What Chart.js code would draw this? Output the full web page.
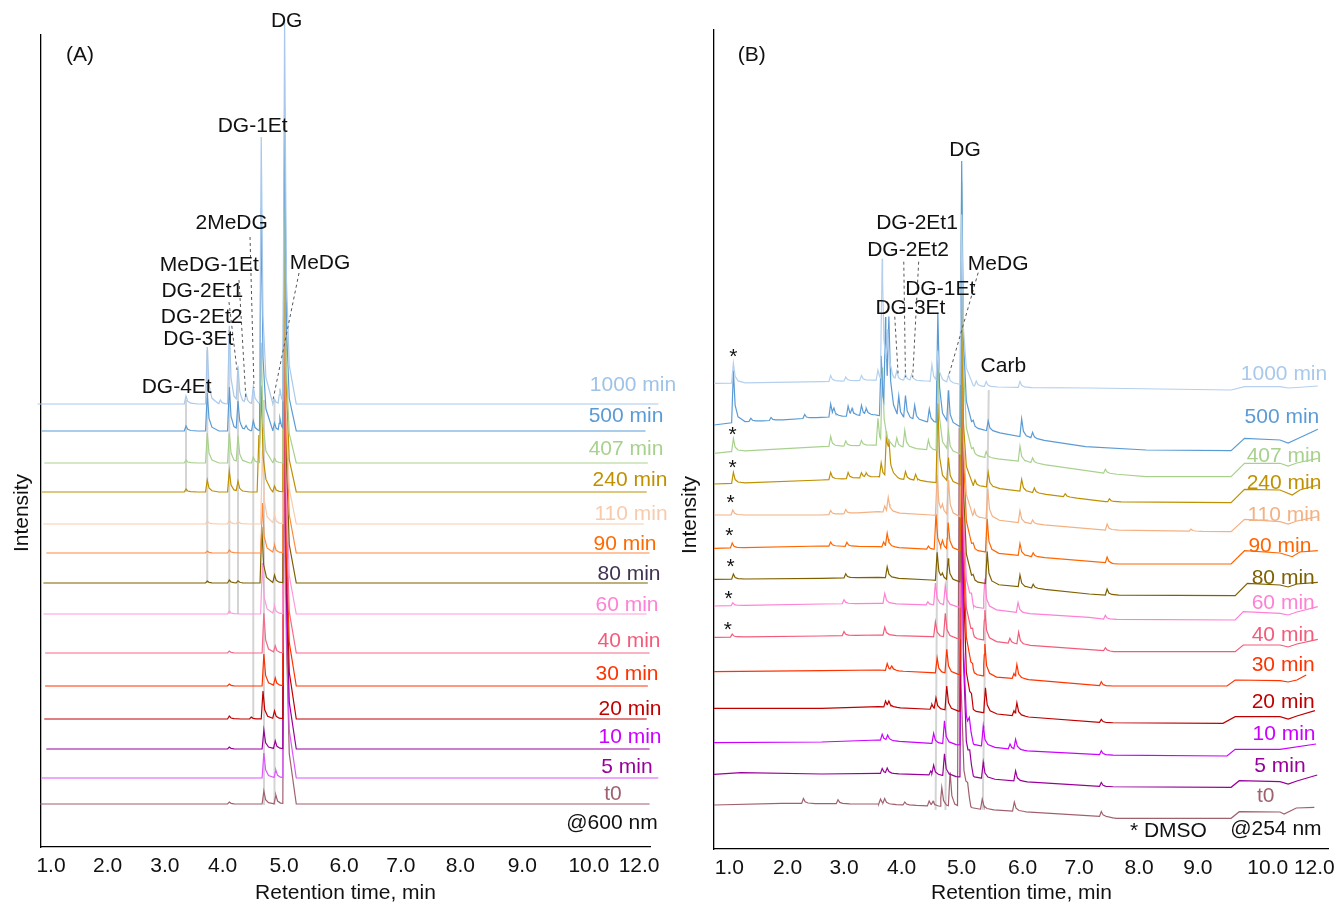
<!DOCTYPE html>
<html>
<head>
<meta charset="utf-8">
<script src="https://cdn.jsdelivr.net/npm/chart.js@4.4.0/dist/chart.umd.min.js"></script>
<style>
  body { margin: 0; background: #fff; }
  #page { position: relative; width: 1342px; height: 904px; overflow: hidden; }
  #chartA { position: absolute; left: 0; top: 0; }
  #chartB { position: absolute; left: 672px; top: 0; }
</style>
</head>
<body>
<div id="page">
  <canvas id="chartA" width="680" height="904"></canvas>
  <canvas id="chartB" width="670" height="904"></canvas>
</div>
<script>
const FONT = '"Liberation Sans", Arial, Helvetica, sans-serif';

const traceNames = ['1000 min', '500 min', '407 min', '240 min', '110 min', '90 min', '80 min',
  '60 min', '40 min', '30 min', '20 min', '10 min', '5 min', 't0'];

// ---- Panel A (@600 nm) ----
const aTickPositions = [1.0, 1.97, 2.95, 3.94, 4.99, 6.02, 6.99, 8.01, 9.07, 10.21, 11.07];
const aTickLabels = ['1.0', '2.0', '3.0', '4.0', '5.0', '6.0', '7.0', '8.0', '9.0', '10.0', '12.0'];
const aBaselineLevels = [443, 416, 384, 355, 323, 294, 264, 233, 194, 161, 128, 98, 69, 43];
const aTraceStart = [0.77, 0.84, 0.885, 0.846, 0.87, 0.92, 0.87, 0.87, 0.9, 0.9, 0.885, 0.92, 0.846, 0.815];
const aTraceEnd = [11.4, 11.18, 11.22, 11.2, 11.15, 11.25, 11.22, 11.2, 11.25, 11.22, 11.2, 11.25, 11.4, 11.25];
// [retention time, peak height]
const aPeaks = [
  [[3.312, 8], [3.676, 57], [3.9, 4], [4.053, 78], [4.202, 35], [4.34, 8], [4.464, 17], [4.60, 266], [4.827, 5], [4.92, 15], [5.0, 383]],
  [[3.312, 5], [3.676, 38], [4.053, 44], [4.202, 28], [4.34, 4], [4.464, 10], [4.60, 222], [4.827, 8], [4.92, 12], [5.0, 323]],
  [[3.312, 3], [3.676, 30], [4.053, 30], [4.202, 26], [4.464, 6], [4.60, 120], [4.827, 5], [5.0, 293]],
  [[3.312, 3], [3.676, 12], [4.053, 21], [4.202, 10], [4.56, 57], [4.60, 90], [4.827, 6], [5.0, 324]],
  [[3.676, 3], [4.053, 4], [4.202, 3], [4.62, 74], [4.827, 9], [5.0, 354]],
  [[3.676, 2], [4.053, 3], [4.62, 50], [4.827, 8], [5.0, 381]],
  [[3.676, 2], [4.053, 3], [4.202, 2], [4.61, 56], [4.827, 8], [5.0, 383]],
  [[4.053, 3], [4.62, 51], [4.827, 8], [5.0, 384]],
  [[4.053, 2], [4.645, 40], [4.84, 7], [5.0, 413]],
  [[4.053, 2], [4.645, 32], [4.84, 8], [5.0, 436]],
  [[4.053, 3], [4.43, 2], [4.63, 28], [4.827, 8], [5.0, 469]],
  [[4.053, 2], [4.645, 19], [4.84, 8], [5.0, 469]],
  [[4.645, 25], [4.85, 8], [5.0, 478]],
  [[4.053, 2], [4.645, 13], [4.85, 9], [5.0, 504]]
];
// light grey guide lines [t, top, t, bottom]
const aGuides = [
  [3.312, 447, 3.312, 355], [3.676, 497, 3.676, 264], [4.053, 517, 4.053, 233], [4.202, 475, 4.202, 233],
  [4.464, 457, 4.464, 128], [4.647, 447, 4.647, 42], [4.827, 447, 4.827, 42]
];

// ---- Panel B (@254 nm) ----
const bTickPositions = [1.0, 2.0, 2.97, 3.96, 4.99, 6.04, 7.01, 8.04, 9.05, 10.25, 11.05];
const bTickLabels = ['1.0', '2.0', '3.0', '4.0', '5.0', '6.0', '7.0', '8.0', '9.0', '10.0', '12.0'];
const bBaselines = [
  [[0.737, 465.7], [2.587, 467.3], [3.5, 469], [4.4, 468], [5.37, 462.3], [6.07, 461.5], [7.2, 461], [9.62, 459], [9.85, 462.3], [10.46, 462.3], [10.6, 461], [10.75, 461.5], [11.11, 463]],
  [[0.737, 424], [1.2, 427.3], [1.89, 429], [2.587, 431.7], [3.5, 434], [4.4, 427.3], [4.95, 422.3], [5.37, 419], [6.07, 411.7], [7.12, 402.3], [8.16, 399], [9.62, 398.3], [9.85, 410.7], [10.46, 409], [10.6, 406], [10.75, 410], [11.11, 419.7]],
  [[0.737, 395.7], [1.02, 397.3], [2.587, 402.3], [3.5, 404], [4.47, 399], [5.37, 391.7], [6.07, 387.3], [7.46, 375.7], [8.16, 372.3], [9.62, 372.3], [9.85, 385.7], [10.46, 385.7], [10.6, 383], [10.75, 386], [11.11, 390.7]],
  [[0.737, 365], [2.587, 369], [3.56, 372.3], [4.4, 367.3], [5.37, 362.3], [6.07, 357.3], [7.46, 347.3], [9.62, 346.3], [9.85, 359.7], [10.46, 359], [10.67, 354], [10.8, 359], [11.11, 364]],
  [[0.737, 334], [2.587, 334], [3.56, 337.3], [4.47, 334], [5.37, 330.7], [6.07, 325.7], [7.46, 319], [9.62, 317.3], [9.85, 329.7], [10.46, 327.3], [10.6, 325], [10.75, 328], [11.11, 332.3]],
  [[0.737, 300.7], [2.587, 303], [3.56, 302.3], [4.47, 299.7], [5.37, 297.3], [6.07, 293], [7.46, 286.3], [7.6, 285], [9.62, 285], [9.85, 298.3], [10.46, 296], [10.67, 292.3], [10.8, 297], [11.11, 298.3]],
  [[0.737, 269.7], [2.587, 270.7], [3.56, 271.7], [4.47, 269], [5.37, 265.7], [6.07, 261.7], [7.18, 255], [7.46, 254], [9.69, 253.3], [9.9, 265.7], [10.46, 264], [10.6, 262], [10.75, 265], [11.11, 266.7]],
  [[0.737, 243], [2.587, 245], [3.56, 245.7], [4.47, 244], [5.37, 240.7], [6.07, 235.7], [7.18, 231.7], [7.46, 229.7], [9.69, 229], [9.83, 237.3], [10.46, 235.7], [10.6, 234], [10.75, 237], [11.11, 242.3]],
  [[0.737, 211.7], [2.587, 213], [3.56, 214], [4.47, 212.3], [5.37, 209], [6.07, 204], [7.46, 198.3], [7.6, 197.3], [9.69, 197.3], [9.83, 204], [10.46, 204], [10.6, 202], [10.75, 205], [11.11, 209.7]],
  [[0.737, 177.3], [2.587, 178.3], [3.56, 179], [4.47, 176.3], [5.37, 173], [6.07, 169.7], [7.46, 163], [9.55, 163], [9.69, 169], [10.46, 168.3], [10.6, 167], [10.75, 169], [10.91, 174]],
  [[0.737, 140.7], [2.587, 140.7], [3.56, 142.3], [4.47, 139.7], [5.37, 136.3], [6.07, 132.3], [7.46, 126.3], [9.48, 125.7], [9.69, 132.3], [10.46, 132.3], [10.6, 130], [10.75, 133], [11.06, 138.3]],
  [[0.737, 106.3], [2.587, 107], [3.56, 109], [4.47, 105.7], [5.37, 103], [6.07, 98.3], [7.46, 94], [9.55, 93], [9.69, 99.7], [10.46, 99.7], [11.08, 105]],
  [[0.737, 74.7], [1.2, 76.3], [2.587, 75], [3.56, 75.7], [4.47, 74], [5.37, 70.7], [6.07, 67.3], [7.46, 62.3], [9.62, 61.7], [9.76, 68.3], [10.46, 67.3], [10.6, 65], [10.75, 68], [11.1, 74]],
  [[0.737, 44], [1.9, 45.7], [3.56, 45], [4.47, 43], [5.37, 39.7], [6.07, 37.3], [7.46, 32.3], [7.65, 30.7], [9.62, 30.7], [9.76, 37.3], [10.46, 37], [10.53, 35], [10.74, 41], [11.05, 41.7]]
];
const bPeaks = [
  [[1.07, 20], [2.741, 6], [3.0, 4], [3.27, 5], [3.553, 10], [3.626, 120], [3.72, 40], [3.877, 8], [4.026, 6], [4.133, 6], [4.48, 17], [4.58, 30], [4.765, 8], [4.992, 170], [5.242, 5], [5.412, 5], [5.993, 6]],
  [[1.07, 52], [1.369, 3], [1.717, 3], [2.295, 4], [2.741, 13], [2.797, 6], [3.041, 10], [3.109, 6], [3.27, 10], [3.353, 6], [3.609, 60], [3.684, 92], [3.741, 78], [3.911, 20], [4.026, 22], [4.184, 14], [4.435, 13], [4.582, 110], [4.765, 33], [4.992, 266], [5.191, 8], [5.447, 10], [6.022, 18], [6.21, 6]],
  [[1.07, 13], [2.741, 10], [3.0, 5], [3.27, 5], [3.553, 27], [3.63, 75], [3.877, 9], [4.014, 17], [4.42, 10], [4.582, 100], [4.765, 20], [4.992, 272], [5.191, 8], [5.412, 6], [5.993, 15], [6.21, 5], [7.46, 4]],
  [[1.07, 11], [2.741, 7], [3.041, 6], [3.27, 5], [3.353, 4], [3.609, 14], [3.70, 45], [3.741, 25], [4.026, 8], [4.2, 6], [4.582, 79], [4.765, 25], [4.992, 187], [5.22, 6], [5.447, 15], [6.022, 12], [6.24, 5], [6.77, 3], [7.53, 3]],
  [[1.06, 5], [2.741, 4], [3.0, 4], [3.67, 6], [3.73, 14], [4.57, 40], [4.66, 8], [4.765, 35], [4.992, 228], [5.21, 8], [5.44, 30], [5.993, 12], [6.21, 4], [7.49, 6], [8.93, 2]],
  [[1.05, 5], [2.741, 4], [3.02, 4], [3.65, 5], [3.712, 13], [4.42, 3], [4.55, 35], [4.662, 7], [4.76, 27], [4.992, 301], [5.191, 8], [5.43, 33], [5.993, 12], [6.22, 4], [7.49, 6]],
  [[1.07, 5], [3.0, 4], [3.712, 11], [4.57, 28], [4.66, 5], [4.76, 22], [4.992, 283], [5.191, 8], [5.43, 32], [5.993, 12], [6.22, 4], [7.49, 6]],
  [[1.06, 3], [2.97, 4], [3.67, 10], [4.41, 3], [4.54, 22], [4.71, 20], [4.992, 280], [5.16, 7], [5.39, 30], [5.96, 10], [7.46, 4]],
  [[1.05, 3], [2.97, 4], [3.67, 8], [4.54, 15], [4.71, 24], [4.992, 310], [5.18, 8], [5.39, 30], [5.82, 5], [5.97, 12], [7.46, 3]],
  [[3.712, 7], [3.79, 4], [4.57, 15], [4.735, 24], [4.992, 376], [5.18, 8], [5.39, 32], [5.89, 5], [5.94, 13], [7.39, 4]],
  [[3.684, 6], [3.741, 5], [4.48, 5], [4.55, 11], [4.735, 24], [4.992, 393], [5.16, 8], [5.40, 25], [5.89, 5], [5.94, 12], [7.39, 3]],
  [[3.626, 6], [3.72, 5], [4.51, 10], [4.696, 23], [4.992, 292], [5.123, 11], [5.362, 20], [5.822, 5], [5.918, 10], [7.39, 4]],
  [[3.626, 5], [3.712, 5], [4.46, 4], [4.51, 9], [4.696, 22], [4.992, 358], [5.13, 9], [5.362, 16], [5.918, 10], [7.39, 4]],
  [[2.273, 5], [2.867, 4], [3.597, 5], [3.67, 5], [4.014, 3], [4.433, 5], [4.5, 4], [4.65, 19], [4.793, 34], [4.95, 379], [5.094, 8], [5.345, 10], [5.896, 9], [7.39, 5]]
];
const bGuides = [
  [4.587, 464, 4.544, 39], [4.765, 459, 4.713, 39], [5.457, 459, 5.353, 39]
];

// ---- styles ----
const aColors = ['#a9c9ec', '#5b9bd5', '#a9d18e', '#bf9000', '#f8cbad', '#ff8a3d', '#7f6000',
  '#ff99dd', '#f8698a', '#ff3300', '#c00000', '#990099', '#dd55ff', '#a0616f'];
const aLabelColors = ['#9fc3e8', '#5b9bd5', '#a9d18e', '#bf9000', '#f8cbad', '#ff6a00', '#403152',
  '#ff80d5', '#f45b7a', '#ff3300', '#c00000', '#cc00ff', '#990099', '#a0616f'];
const bColors = ['#b4d0ee', '#5b9bd5', '#a9d18e', '#bf9000', '#f4b183', '#ff6600', '#7f6000',
  '#ff80d5', '#f45b7a', '#ff3300', '#c00000', '#cc00ff', '#990099', '#a0616f'];
const bLabelColors = ['#a9c9ec', '#5b9bd5', '#a9d18e', '#bf9000', '#f4b183', '#ff6600', '#7f6000',
  '#ff80d5', '#f45b7a', '#ff3300', '#c00000', '#cc00ff', '#990099', '#a0616f'];

const aLabelPos = [[10.966, 462], [10.846, 430.3], [10.846, 398], [10.914, 367], [10.932, 333], [10.829, 303],
  [10.897, 273], [10.863, 241.3], [10.897, 205.3], [10.863, 172.7], [10.914, 137.7], [10.914, 109.7], [10.863, 79.3], [10.623, 52.7]];
const bLabelPos = [[10.529, 474.7], [10.493, 431.7], [10.529, 392.3], [10.529, 365.7], [10.529, 334], [10.459, 302.3],
  [10.515, 270.7], [10.515, 245.7], [10.515, 214], [10.515, 184], [10.515, 146.3], [10.529, 114.7], [10.459, 83], [10.215, 53]];

const aTexts = [['DG', 5.036, 825.3], ['DG-1Et', 4.454, 720.3], ['2MeDG', 4.094, 623.7], ['MeDG-1Et', 3.711, 582],
  ['DG-2Et1', 3.591, 556], ['DG-2Et2', 3.58, 529.3], ['DG-3Et', 3.522, 507.7], ['DG-4Et', 3.152, 459.3],
  ['MeDG', 5.606, 583.7], ['(A)', 1.497, 792], ['@600 nm', 10.606, 24]];
const bTexts = [['(B)', 1.386, 794], ['DG', 5.05, 699], ['DG-2Et1', 4.224, 625.7], ['DG-2Et2', 4.07, 599],
  ['DG-1Et', 4.623, 559.7], ['DG-3Et', 4.111, 540.7], ['MeDG', 5.618, 585], ['Carb', 5.708, 482.3],
  ['* DMSO', 8.543, 17.3], ['@254 nm', 10.389, 19.7]];
const aLeaders = [[4.048, 545, 4.185, 477], [4.219, 567, 4.339, 447], [4.408, 610, 4.476, 459], [5.247, 574, 4.801, 447]];
const bLeaders = [[3.842, 532.3, 3.899, 475.7], [3.997, 587.3, 4.026, 471.7], [4.253, 587.3, 4.15, 471.7], [5.275, 576.3, 4.764, 472.3]];
const bAsterisks = [[1.07, 496.3], [1.056, 419], [1.056, 385.7], [1.02, 350.7], [1.0, 317.3], [1.02, 286.3], [0.986, 254.7], [0.973, 224]];

// peak outline: [offset in min, fraction of height] (sharp rise, tailing fall)
const PEAK_SHAPE = [[-0.03, 0], [0, 1], [0.03, 0.33], [0.08, 0.1], [0.2, 0]];

function interp(knots, t) {
  if (t <= knots[0][0]) return knots[0][1];
  for (let i = 1; i < knots.length; i++) {
    if (t <= knots[i][0]) {
      const [t0, y0] = knots[i - 1];
      const [t1, y1] = knots[i];
      return y0 + (y1 - y0) * (t - t0) / (t1 - t0);
    }
  }
  return knots[knots.length - 1][1];
}

function buildTrace(knots, peaks) {
  const xs = new Set(knots.map(k => k[0]));
  peaks.forEach(([tp]) => PEAK_SHAPE.forEach(([d]) => xs.add(+(tp + d).toFixed(4))));
  const tMin = knots[0][0], tMax = knots[knots.length - 1][0];
  return [...xs].filter(t => t >= tMin && t <= tMax).sort((a, b) => a - b).map(t => ({
    x: t,
    y: interp(knots, t) + peaks.reduce((s, [tp, h]) =>
      s + h * interp(PEAK_SHAPE.map(([d, f]) => [tp + d, f]), t), 0)
  }));
}

function labelPlugin(spec) {
  return {
    id: 'chromLabels',
    afterDatasetsDraw(chart) {
      const { ctx, scales: { x, y }, chartArea } = chart;
      const px = t => x.getPixelForValue(t);
      const py = v => y.getPixelForValue(v);
      ctx.save();
      ctx.setLineDash([3, 3]);
      ctx.strokeStyle = '#555';
      ctx.lineWidth = 1;
      spec.leaders.forEach(([t1, v1, t2, v2]) => {
        ctx.beginPath();
        ctx.moveTo(px(t1), py(v1));
        ctx.lineTo(px(t2), py(v2));
        ctx.stroke();
      });
      ctx.setLineDash([]);
      ctx.font = `21px ${FONT}`;
      ctx.textAlign = 'center';
      ctx.textBaseline = 'middle';
      spec.texts.forEach(([txt, t, v]) => {
        ctx.fillStyle = '#111';
        ctx.fillText(txt, px(t), py(v));
      });
      traceNames.forEach((name, i) => {
        ctx.fillStyle = spec.labelColors[i];
        ctx.fillText(name, px(spec.labelPos[i][0]), py(spec.labelPos[i][1]));
      });
      (spec.asterisks || []).forEach(([t, v]) => {
        ctx.fillStyle = '#111';
        ctx.fillText('*', px(t), py(v) + 5);
      });
      // y axis title
      ctx.translate(chartArea.left - spec.titleGap, py(334));
      ctx.rotate(-Math.PI / 2);
      ctx.fillStyle = '#111';
      ctx.fillText('Intensity', 0, 0);
      ctx.restore();
    }
  };
}

function makeChart(id, p) {
  const datasets = traceNames.map((name, i) => ({
    label: name,
    data: buildTrace(p.baselines[i], p.peaks[i]),
    borderColor: p.colors[i],
    borderWidth: 1.2,
    clip: p.clip,
    order: i
  }));
  p.guides.forEach(([t1, v1, t2, v2]) => datasets.push({
    label: 'guide',
    data: [{ x: t1, y: v1 }, { x: t2, y: v2 }],
    borderColor: '#d4d4d4',
    borderWidth: 2,
    order: 50
  }));

  return new Chart(document.getElementById(id), {
    type: 'line',
    data: { datasets },
    options: {
      responsive: false,
      animation: false,
      layout: { padding: { left: 0, right: p.padRight, top: p.padTop, bottom: 0 } },
      elements: { point: { radius: 0 }, line: { tension: 0 } },
      plugins: { legend: { display: false }, tooltip: { enabled: false } },
      scales: {
        x: {
          type: 'linear',
          min: p.xMin,
          max: p.xMax,
          grid: { display: false, drawTicks: false },
          border: { display: true, color: '#000', width: 1.3 },
          afterBuildTicks: s => { s.ticks = p.tickPositions.map(v => ({ value: v })); },
          afterFit: s => { s.height = p.xAxisHeight; },
          ticks: {
            autoSkip: false, maxRotation: 0, padding: 7, color: '#111',
            font: { family: FONT, size: 21 },
            callback: (v, i) => p.tickLabels[i]
          },
          title: {
            display: true, text: 'Retention time, min', color: '#111',
            font: { family: FONT, size: 21, lineHeight: 1 }, padding: { top: 0, bottom: 0 }
          }
        },
        y: {
          min: 0,
          max: p.yMax,
          grid: { display: false, drawTicks: false },
          border: { display: true, color: '#000', width: 1.3 },
          ticks: { display: false },
          afterFit: s => { s.width = p.yAxisWidth; }
        }
      }
    },
    plugins: [labelPlugin(p)]
  });
}

makeChart('chartA', {
  baselines: aBaselineLevels.map((lvl, i) => [[aTraceStart[i], lvl], [aTraceEnd[i], lvl]]),
  peaks: aPeaks, colors: aColors, labelColors: aLabelColors, labelPos: aLabelPos,
  guides: aGuides, texts: aTexts, leaders: aLeaders,
  tickPositions: aTickPositions, tickLabels: aTickLabels,
  xMin: 0.829, xMax: 11.257, yMax: 812, clip: false,
  padTop: 35, padRight: 30, xAxisHeight: 57, yAxisWidth: 41, titleGap: 19
});

makeChart('chartB', {
  baselines: bBaselines,
  peaks: bPeaks, colors: bColors, labelColors: bLabelColors, labelPos: bLabelPos,
  guides: bGuides, texts: bTexts, leaders: bLeaders, asterisks: bAsterisks,
  tickPositions: bTickPositions, tickLabels: bTickLabels,
  xMin: 0.737, xMax: 11.30, yMax: 819, clip: undefined,
  padTop: 30, padRight: 9, xAxisHeight: 55, yAxisWidth: 42, titleGap: 24
});
</script>
</body>
</html>
